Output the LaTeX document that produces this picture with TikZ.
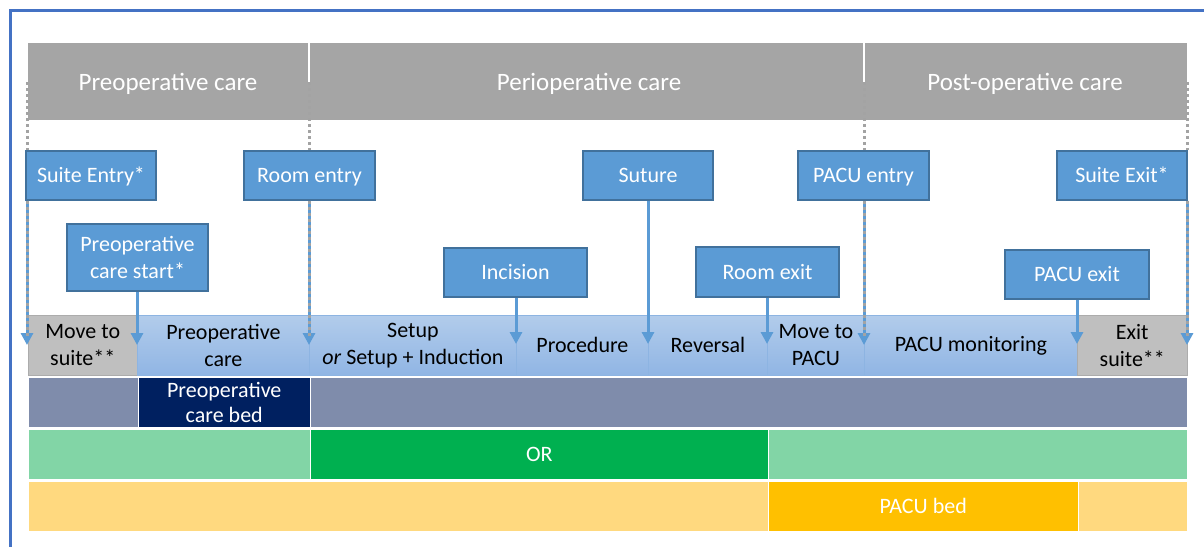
\documentclass[tikz,border=0pt]{standalone}
\usepackage{fontspec}
\setmainfont{Carlito}
\usetikzlibrary{arrows.meta,calc}
\definecolor{frameblue}{HTML}{4472C4}
\definecolor{hdrgray}{HTML}{A5A5A5}
\definecolor{evfill}{HTML}{5B9BD5}
\definecolor{evdraw}{HTML}{41719C}
\definecolor{arrblue}{HTML}{5B9BD5}
\definecolor{dotgray}{HTML}{A3A3A3}
\definecolor{phtop}{HTML}{B2CCEB}
\definecolor{phbot}{HTML}{90B5E4}
\definecolor{phline}{HTML}{8DB4E2}
\definecolor{suitegray}{HTML}{BFBFBF}
\definecolor{slate}{HTML}{7F8CAB}
\definecolor{navy}{HTML}{002060}
\definecolor{ltgreen}{HTML}{82D5A6}
\definecolor{green}{HTML}{00B050}
\definecolor{ltyellow}{HTML}{FFD97F}
\definecolor{amber}{HTML}{FFC000}
\tikzset{
  evbox/.style={draw=evdraw, line width=1.2pt, fill=evfill, text=white, font=\fontsize{22}{27}\selectfont, align=center, inner sep=0pt, minimum height=49pt, text depth=1pt},
  hdrtext/.style={text=white, font=\fontsize{25}{30}\selectfont},
  seg/.style={anchor=north west, inner sep=0pt, minimum height=60pt, align=center, font=\fontsize{22}{27}\selectfont, text=black},
  bluseg/.style={seg, top color=phtop, bottom color=phbot, draw=phline, line width=0.8pt},
  grayseg/.style={seg, fill=suitegray, draw=suitegray!90!black, line width=0.5pt},
  bar/.style={anchor=north west, inner sep=0pt, minimum height=50pt, draw=white, line width=1.5pt, align=center, text=white, font=\fontsize{22}{25}\selectfont},
  evarrow/.style={draw=arrblue, line width=3pt, -{Triangle[width=12pt,length=12pt]}},
  guide/.style={draw=dotgray, line width=3pt, dash pattern=on 3pt off 3pt},
}
\begin{document}
\begin{tikzpicture}[x=1pt,y=-1pt]
\clip (0,0) rectangle (1204,546);
\fill[white] (0,0) rectangle (1204,546);
% frame
\draw[frameblue, line width=3pt] (10,560) -- (10,10) -- (1220,10);
% header
\node[fill=hdrgray, anchor=north west, inner sep=0pt, minimum width=1159pt, minimum height=77pt] (hdr) at (28,43) {};
\node[hdrtext] (h1) at (168,84) {Preoperative care};
\node[hdrtext] (h2) at (589,84) {Perioperative care};
\node[hdrtext] (h3) at (1025,84) {Post-operative care};
\draw[white, line width=1.5pt] (309,43) -- (309,82);
\draw[white, line width=1.5pt] (864,43) -- (864,82);
% phase row
\node[grayseg, minimum width=109pt] (ms) at (28,315) {Move to\\suite**};
\node[bluseg, minimum width=172pt] (pc) at (137,315) {Preoperative\\care};
\node[bluseg, minimum width=207pt] (su) at (309,315) {Setup\\\textit{or} Setup + Induction};
\node[bluseg, minimum width=132pt] (pr) at (516,315) {Procedure};
\node[bluseg, minimum width=119pt] (rv) at (648,315) {Reversal};
\node[bluseg, minimum width=97pt] (mp) at (767,315) {Move to\\PACU};
\node[bluseg, minimum width=213pt] (pm) at (864,315) {PACU monitoring};
\node[grayseg, minimum width=110pt] (es) at (1077,315) {Exit\\suite**};
% resource rows
\node[bar, fill=slate, minimum width=110pt] (b1) at (27.5,376.5) {};
\node[bar, fill=navy, minimum width=172pt] (b2) at (137.5,376.5) {Preoperative\\care bed};
\node[bar, fill=slate, minimum width=877.5pt] (b3) at (309.5,376.5) {};
\node[bar, fill=ltgreen, minimum width=282pt] (g1) at (27.5,428.5) {};
\node[bar, fill=green, minimum width=458pt] (g2) at (309.5,428.5) {OR};
\node[bar, fill=ltgreen, minimum width=419.5pt] (g3) at (767.5,428.5) {};
\node[bar, fill=ltyellow, minimum width=740pt] (y1) at (27.5,480.5) {};
\node[bar, fill=amber, minimum width=310pt] (y2) at (767.5,480.5) {PACU bed};
\node[bar, fill=ltyellow, minimum width=109.5pt] (y3) at (1077.5,480.5) {};
% event boxes
\node[evbox, minimum width=130pt] (se) at (91,175.5) {Suite Entry*};
\node[evbox, minimum width=131pt] (re) at (309.5,175.5) {Room entry};
\node[evbox, minimum width=141pt, minimum height=67pt] (pcs) at (137.5,257.5) {Preoperative\\care start*};
\node[evbox, minimum width=143pt] (inc) at (515.5,272.5) {Incision};
\node[evbox, minimum width=130pt] (sut) at (648,175.5) {Suture};
\node[evbox, minimum width=143pt, minimum height=50pt] (rex) at (767.5,272) {Room exit};
\node[evbox, minimum width=131pt] (pe) at (863.5,175.5) {PACU entry};
\node[evbox, minimum width=130pt] (sx) at (1122,175.5) {Suite Exit*};
\node[evbox, minimum width=144pt] (px) at (1077,274.5) {PACU exit};
% arrow targets
\coordinate (tse) at (27,345);
\coordinate (tpcs) at (137,345);
\coordinate (tre) at (309,345);
\coordinate (tinc) at (516,344);
\coordinate (tsut) at (648,344);
\coordinate (trex) at (767,344);
\coordinate (tpe) at (864,345);
\coordinate (tpx) at (1077,344);
\coordinate (tsx) at (1187,345);
% guides above boxes
\coordinate (gse) at (27,82);
\coordinate (gre) at (309,82);
\coordinate (gpe) at (864,82);
\coordinate (gsx) at (1187,82);
\draw[guide] (gse) -- (gse |- se.north);
\draw[guide] (gre) -- (gre |- re.north);
\draw[guide] (gpe) -- (gpe |- pe.north);
\draw[guide] (gsx) -- (gsx |- sx.north);
% arrows
\draw[evarrow] (tse |- se.south) -- (tse);
\draw[evarrow] (tpcs |- pcs.south) -- (tpcs);
\draw[evarrow] (tre |- re.south) -- (tre);
\draw[evarrow] (tinc |- inc.south) -- (tinc);
\draw[evarrow] (tsut |- sut.south) -- (tsut);
\draw[evarrow] (trex |- rex.south) -- (trex);
\draw[evarrow] (tpe |- pe.south) -- (tpe);
\draw[evarrow] (tpx |- px.south) -- (tpx);
\draw[evarrow] (tsx |- sx.south) -- (tsx);
% guides over arrows
\draw[guide] (tse |- se.south) -- ($(tse)+(0,-7)$);
\draw[guide] (tre |- re.south) -- ($(tre)+(0,-7)$);
\draw[guide] (tpe |- pe.south) -- ($(tpe)+(0,-7)$);
\draw[guide] (tsx |- sx.south) -- ($(tsx)+(0,-7)$);
\end{tikzpicture}
\end{document}
